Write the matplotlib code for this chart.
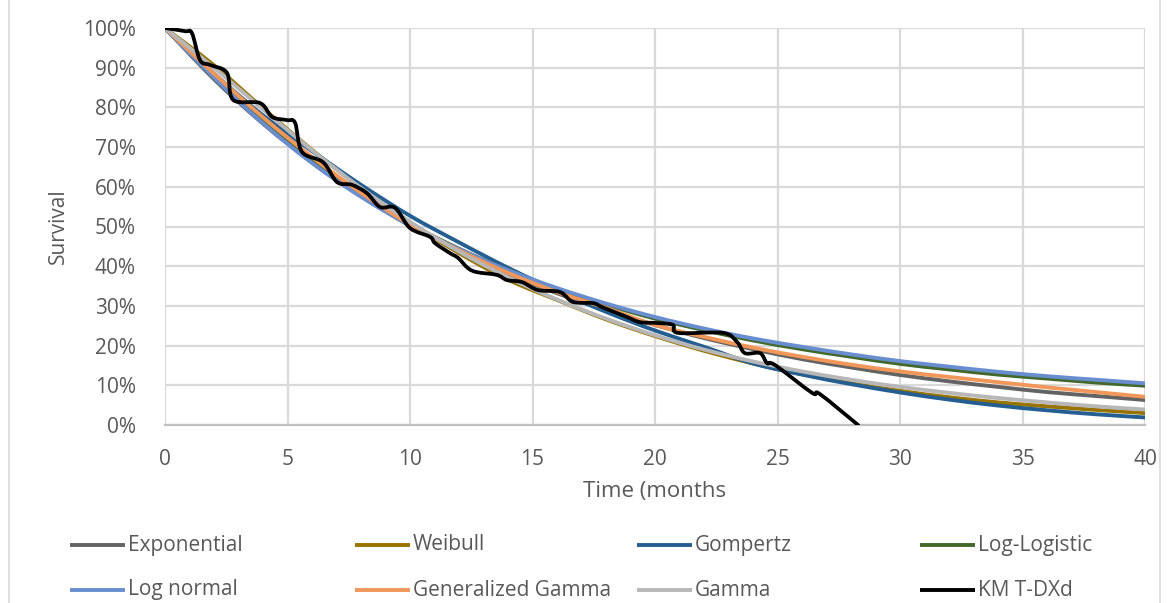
import matplotlib
matplotlib.use("Agg")
import matplotlib.pyplot as plt
from matplotlib.lines import Line2D
from matplotlib.path import Path
from matplotlib.patches import PathPatch
from matplotlib.ticker import PercentFormatter

# Fitted parametric survival curves, evaluated every 2 months
months = [0, 2, 4, 6, 8, 10, 12, 14, 16, 18, 20, 22, 24, 26, 28, 30, 32, 34, 36, 38, 40]
exponential = [1.000, .871, .759, .661, .576, .502, .437, .381, .332, .289, .252,
               .219, .191, .166, .145, .126, .110, .096, .083, .073, .063]
weibull = [1.000, .906, .798, .693, .597, .510, .433, .366, .315, .266, .224,
           .187, .155, .128, .105, .086, .070, .057, .047, .038, .030]
gompertz = [1.000, .885, .780, .690, .605, .527, .460, .396, .338, .285, .238,
            .197, .155, .127, .103, .082, .064, .049, .037, .027, .019]
log_logistic = [1.000, .880, .765, .665, .580, .506, .444, .390, .343, .303, .268,
                .239, .213, .191, .172, .154, .140, .127, .117, .107, .099]
log_normal = [1.000, .875, .760, .660, .575, .503, .443, .390, .345, .306, .272,
              .243, .218, .197, .178, .161, .147, .134, .123, .114, .105]
gen_gamma = [1.000, .885, .775, .675, .585, .505, .440, .383, .335, .295, .252,
             .222, .195, .172, .152, .135, .121, .108, .095, .083, .071]
gamma = [1.000, .900, .795, .692, .597, .512, .437, .372, .316, .268, .226,
         .190, .160, .135, .114, .096, .081, .068, .057, .047, .039]

# Kaplan-Meier estimate for T-DXd
km_months = [0, 0.82, 1.10, 1.43, 1.84, 2.53, 2.78, 3.88, 4.37, 4.98, 5.31, 5.59,
             6.45, 7.02, 7.63, 8.24, 8.78, 9.39, 10.0, 10.82, 11.02, 11.63, 11.96,
             12.37, 12.73, 13.55, 13.96, 14.57, 15.22, 16.12, 16.65, 17.47, 17.84,
             18.45, 18.86, 19.39, 20.08, 20.73, 20.94, 22.78, 23.35, 23.67, 24.29,
             24.57, 24.90, 26.41, 26.73, 28.29]
km_surv = [1.000, .992, .987, .919, .907, .887, .819, .811, .776, .768, .761, .688,
           .662, .612, .605, .584, .549, .547, .496, .474, .458, .433, .421,
           .395, .385, .378, .365, .360, .340, .335, .310, .307, .297,
           .282, .272, .259, .257, .252, .232, .232, .209, .181, .181,
           .156, .151, .081, .078, .000]

series_names = ["Exponential", "Weibull", "Gompertz", "Log-Logistic",
                "Log normal", "Generalized Gamma", "Gamma", "KM T-DXd"]
series_colors = ["#636363", "#997300", "#255E91", "#43682B",
                 "#698ED0", "#F1975A", "#B7B7B7", "#000000"]
model_curves = [exponential, weibull, gompertz, log_logistic,
                log_normal, gen_gamma, gamma]

x_ticks = [0, 5, 10, 15, 20, 25, 30, 35, 40]
y_ticks = [0, .1, .2, .3, .4, .5, .6, .7, .8, .9, 1.0]

TEXT = "#595959"
GRID = "#D9D9D9"
FONT = "Open Sans"
FS = 15


def smooth_line(ax, xs, ys, color, lw, z):
    """Draw a smoothed line (cubic Bezier segments through every point)."""
    n = len(xs)
    verts = [(xs[0], ys[0])]
    codes = [Path.MOVETO]
    for i in range(n - 1):
        x0, y0 = xs[max(i - 1, 0)], ys[max(i - 1, 0)]
        x1, y1 = xs[i], ys[i]
        x2, y2 = xs[i + 1], ys[i + 1]
        x3, y3 = xs[min(i + 2, n - 1)], ys[min(i + 2, n - 1)]
        c1 = (x1 + (x2 - x0) / 6, y1 + (y2 - y0) / 6)
        c2 = (x2 - (x3 - x1) / 6, y2 - (y3 - y1) / 6)
        verts += [c1, c2, (x2, y2)]
        codes += [Path.CURVE4] * 3
    patch = PathPatch(Path(verts, codes), facecolor="none", edgecolor=color,
                      lw=lw, joinstyle="round", capstyle="round", zorder=z,
                      transform=ax.transData)
    ax.add_patch(patch)


fig = plt.figure(figsize=(11.73, 6.03), dpi=100)
ax = fig.add_axes([165 / 1173, 1 - 425 / 603, (1145 - 165) / 1173, (425 - 28) / 603])

for vals, col in zip(model_curves, series_colors[:7]):
    smooth_line(ax, months, vals, col, 2.8, 3)
smooth_line(ax, km_months, km_surv, series_colors[7], 2.7, 4)

ax.set_xlim(0, 40)
ax.set_ylim(0, 1.0)
ax.set_xticks(x_ticks)
ax.set_yticks(y_ticks)
ax.yaxis.set_major_formatter(PercentFormatter(1.0, decimals=0))
ax.grid(True, color=GRID, lw=1.6, zorder=0)
ax.set_axisbelow(True)
for s in ["top", "right", "left"]:
    ax.spines[s].set_visible(False)
ax.spines["bottom"].set_color("#BFBFBF")
ax.spines["bottom"].set_linewidth(1.6)
ax.tick_params(length=0, labelcolor=TEXT, labelsize=FS)
ax.tick_params(axis="y", pad=21)
ax.tick_params(axis="x", pad=17)
for lbl in ax.get_xticklabels() + ax.get_yticklabels():
    lbl.set_fontfamily(FONT)

ax.set_ylabel("Survival", fontsize=FS, color=TEXT, fontfamily=FONT, labelpad=10)
ax.set_xlabel("Time (months", fontsize=FS + 1, color=TEXT, fontfamily=FONT, labelpad=8)

# Legend: two rows of four entries
col_x = [70, 355, 637, 920]
row_y = [545, 590]
W, H = 1173, 603
for i, (name, col) in enumerate(zip(series_names, series_colors)):
    r, c = divmod(i, 4)
    x0 = col_x[c]
    y0 = row_y[r]
    fig.add_artist(Line2D([x0 / W, (x0 + 55) / W], [1 - y0 / H, 1 - y0 / H],
                          color=col, lw=2.8, solid_capstyle="butt",
                          transform=fig.transFigure))
    fig.text((x0 + 58) / W, 1 - y0 / H, name, fontsize=FS, color=TEXT,
             fontfamily=FONT, va="center", ha="left")

# Chart area frame
fig.add_artist(Line2D([9 / W, 9 / W], [0, 1], color=GRID, lw=1.2,
                      transform=fig.transFigure))
fig.add_artist(Line2D([1160 / W, 1160 / W], [0, 1], color=GRID, lw=1.2,
                      transform=fig.transFigure))

fig.savefig("out.png", dpi=100)
